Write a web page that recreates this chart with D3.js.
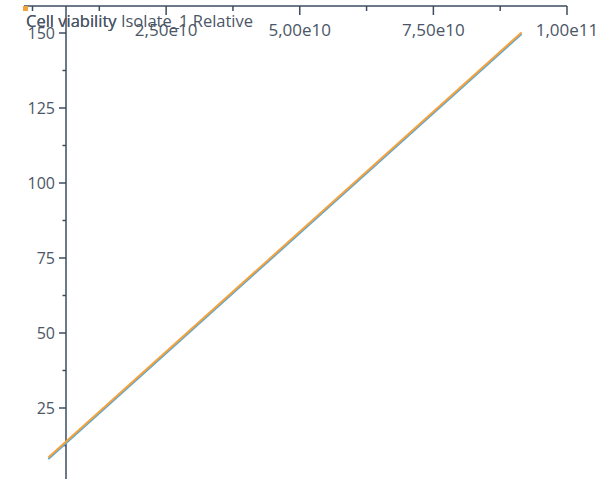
<!DOCTYPE html>
<html>
<head>
<meta charset="utf-8">
<script src="https://cdn.jsdelivr.net/npm/d3@7"></script>
<style>
  html, body { margin: 0; padding: 0; background: #ffffff; }
  svg { display: block; font-family: "Open Sans", "Noto Sans", sans-serif; }
</style>
</head>
<body>
<svg id="chart" width="608" height="479"></svg>
<script>
// Series: dose (x) against response (y)
const seriesNames = ["Cell viability", "Cell viability Isolate_1 Relative"];
const xValues = [2.96e9, 9.15e10];
const viability = [8.0, 149.7];
const viabilityIsolate = [8.5, 150.2];
const xTicks = [0, 1.25e10, 2.5e10, 3.75e10, 5e10, 6.25e10, 7.5e10, 8.75e10, 1e11];
const xTickLabels = ["", "", "2,50e10", "", "5,00e10", "", "7,50e10", "", "1,00e11"];
const yTicks = [12.5, 25, 37.5, 50, 62.5, 75, 87.5, 100, 112.5, 125, 137.5, 150];
const yTickLabels = ["", "25", "", "50", "", "75", "", "100", "", "125", "", "150"];
const colors = ["#5aa6d6", "#f4a23c"];

const svg = d3.select("#chart");
const inkText = "#4a5666";
const inkAxis = "#3d4c5e";

const x = d3.scaleLinear().domain([0, 1e11]).range([32.5, 567]);
const y = d3.scaleLinear().domain([0, 150]).range([483, 33]);

const axisX = 66;   // vertical axis position
const axisY = 6;    // horizontal axis position

// Top x axis
const gx = svg.append("g").attr("transform", `translate(0,${axisY})`);
gx.append("line")
  .attr("x1", 24).attr("x2", x(1e11))
  .attr("stroke", inkAxis).attr("stroke-width", 1.5);
gx.selectAll("line.tick").data(xTicks).join("line")
  .attr("class", "tick")
  .attr("x1", d => x(d)).attr("x2", d => x(d))
  .attr("y1", 0).attr("y2", (d, i) => xTickLabels[i] ? 9 : 5)
  .attr("stroke", inkAxis).attr("stroke-width", 1.5);
gx.selectAll("text").data(xTicks).join("text")
  .attr("x", d => x(d)).attr("y", 30)
  .attr("text-anchor", "middle")
  .attr("fill", inkText).attr("font-size", 17)
  .text((d, i) => xTickLabels[i]);

// Left y axis
const gy = svg.append("g").attr("transform", `translate(${axisX},0)`);
gy.append("line")
  .attr("y1", axisY).attr("y2", 479)
  .attr("stroke", inkAxis).attr("stroke-width", 1.5);
gy.selectAll("line.tick").data(yTicks).join("line")
  .attr("class", "tick")
  .attr("y1", d => y(d)).attr("y2", d => y(d))
  .attr("x1", (d, i) => yTickLabels[i] ? -7 : -3.5).attr("x2", 0)
  .attr("stroke", inkAxis).attr("stroke-width", 1.5);
gy.selectAll("text").data(yTicks).join("text")
  .attr("x", -11).attr("y", d => y(d))
  .attr("dy", "0.35em")
  .attr("text-anchor", "end")
  .attr("fill", inkText).attr("font-size", 16)
  .text((d, i) => yTickLabels[i]);

// Lines
const line = d3.line().x(d => x(d[0])).y(d => y(d[1]));
[viability, viabilityIsolate].forEach((vals, i) => {
  svg.append("path")
    .datum(xValues.map((xv, j) => [xv, vals[j]]))
    .attr("d", line)
    .attr("fill", "none")
    .attr("stroke", colors[i])
    .attr("stroke-width", 2);
});

// Legend (entries stacked at the same spot)
const legend = svg.append("g").attr("transform", "translate(23,6)");
seriesNames.forEach((name, i) => {
  legend.append("rect")
    .attr("x", 0).attr("y", 0).attr("width", 5).attr("height", 5)
    .attr("fill", colors[i]);
  legend.append("text")
    .attr("x", 3).attr("y", 21)
    .attr("fill", inkText).attr("font-size", 16.5)
    .text(name);
});
</script>
</body>
</html>
